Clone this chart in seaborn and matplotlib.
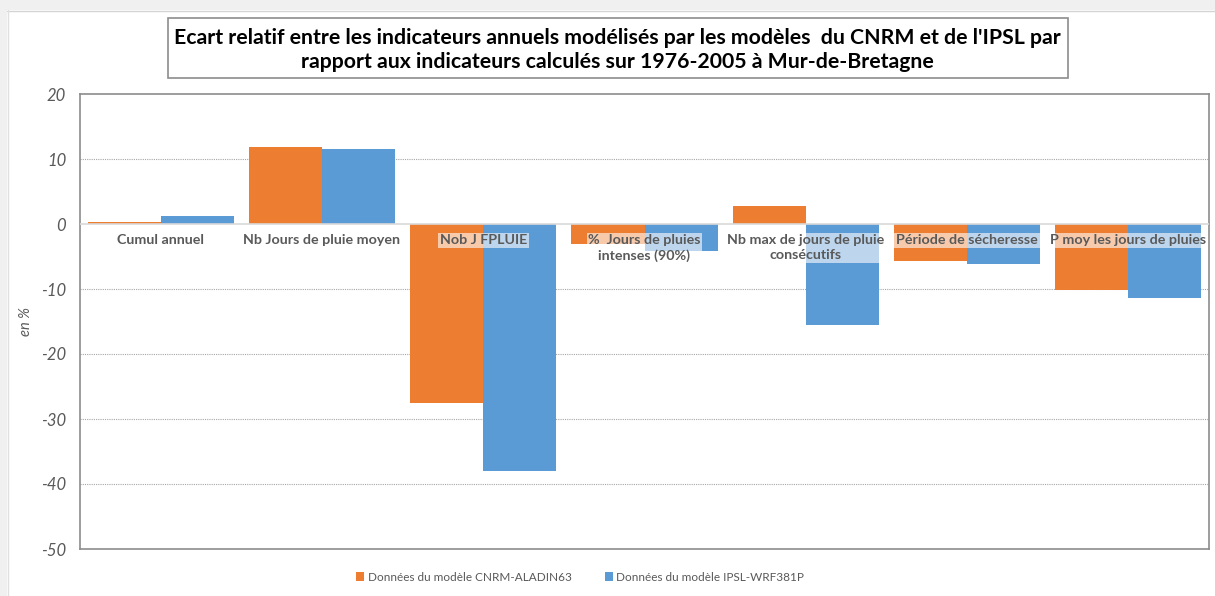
import matplotlib
matplotlib.use("Agg")
import matplotlib.pyplot as plt
from matplotlib.patches import Rectangle
from matplotlib.lines import Line2D
import seaborn as sns
import pandas as pd

categories = [
    "Cumul annuel",
    "Nb Jours de pluie moyen",
    "Nob J FPLUIE",
    "%  Jours de pluies\nintenses (90%)",
    "Nb max de jours de pluie\nconsécutifs",
    "Période de sécheresse",
    "P moy les jours de pluies",
]
series_names = ["Données du modèle CNRM-ALADIN63", "Données du modèle IPSL-WRF381P"]
cnrm_values = [0.3, 11.9, -27.6, -3.1, 2.8, -5.7, -10.2]
ipsl_values = [1.2, 11.6, -38.0, -4.2, -15.5, -6.2, -11.4]
y_ticks = [20, 10, 0, -10, -20, -30, -40, -50]
title = ("Ecart relatif entre les indicateurs annuels modélisés par les modèles  du CNRM et de l'IPSL par\n"
         "rapport aux indicateurs calculés sur 1976-2005 à Mur-de-Bretagne")

colors = ["#ED7D31", "#5B9BD5"]

df = pd.DataFrame({
    "indicateur": categories * 2,
    "modele": [series_names[0]] * len(categories) + [series_names[1]] * len(categories),
    "ecart": cnrm_values + ipsl_values,
})

sns.set_theme(style="white")
plt.rcParams["font.family"] = ["Lato", "DejaVu Sans"]

W, H = 1215, 596
fig = plt.figure(figsize=(W / 100, H / 100), dpi=100)
fig.patch.set_facecolor("white")

# light window chrome along top and left edges
fig.patches.append(Rectangle((0, 1 - 10 / H), 1, 10 / H, transform=fig.transFigure,
                             facecolor="#f0f0f0", edgecolor="none", zorder=0))
fig.patches.append(Rectangle((0, 0), 7 / W, 1, transform=fig.transFigure,
                             facecolor="#f0f0f0", edgecolor="none", zorder=0))
fig.lines.append(Line2D([7 / W, 1], [1 - 10.5 / H, 1 - 10.5 / H], transform=fig.transFigure,
                        color="#d4d4d4", lw=1))
fig.lines.append(Line2D([7.5 / W, 7.5 / W], [0, 1 - 10 / H], transform=fig.transFigure,
                        color="#e0e0e0", lw=1))

ax = fig.add_axes([80 / W, (H - 549) / H, (1209 - 80) / W, (549 - 94) / H])

sns.barplot(data=df, x="indicateur", y="ecart", hue="modele", palette=colors,
            width=0.906, gap=0, saturation=1, ax=ax, legend=True, edgecolor="none")

ax.set_ylim(-50, 20)
ax.set_yticks(y_ticks)
ax.set_yticklabels([str(t) for t in y_ticks], fontstyle="italic", color="#595959", fontsize=12)
ax.tick_params(axis="y", length=0, pad=10)
ax.set_xticks([])
ax.set_xlabel("")
ax.set_ylabel("en %", fontstyle="italic", color="#595959", fontsize=10.5)
ax.yaxis.set_label_coords(-0.0416, 0.5)

for t in [10, -10, -20, -30, -40]:
    ax.axhline(t, color="#a6a6a6", lw=0.8, ls=(0, (1, 1)), zorder=0)
ax.axhline(0, color="#d9d9d9", lw=1.2, zorder=3)

for s in ax.spines.values():
    s.set_color("#8c8c8c")
    s.set_linewidth(1.2)

for i, lab in enumerate(categories):
    ax.text(i, -1.6, lab, ha="center", va="top", fontsize=10.3, fontweight="bold",
            color="#595959", linespacing=1.3, zorder=5,
            bbox=dict(boxstyle="square,pad=0.12", facecolor="white", alpha=0.6,
                      edgecolor="none"))

leg = ax.legend(loc="center", bbox_to_anchor=(0.443, -0.062), ncol=2, frameon=False,
                fontsize=8.5, handlelength=0.7, handleheight=0.7, handletextpad=0.3,
                columnspacing=2.8)
for t in leg.get_texts():
    t.set_color("#595959")

# title box
fig.patches.append(Rectangle((168 / W, 1 - 78 / H), (1068 - 168) / W, 60 / H,
                             transform=fig.transFigure, facecolor="white",
                             edgecolor="#8c8c8c", lw=1.2, zorder=2))
fig.text(617 / W, 1 - 50 / H, title, ha="center", va="center", fontsize=15.3,
         fontweight="bold", color="black", linespacing=1.25, zorder=3)

fig.savefig("out.png", dpi=100)
